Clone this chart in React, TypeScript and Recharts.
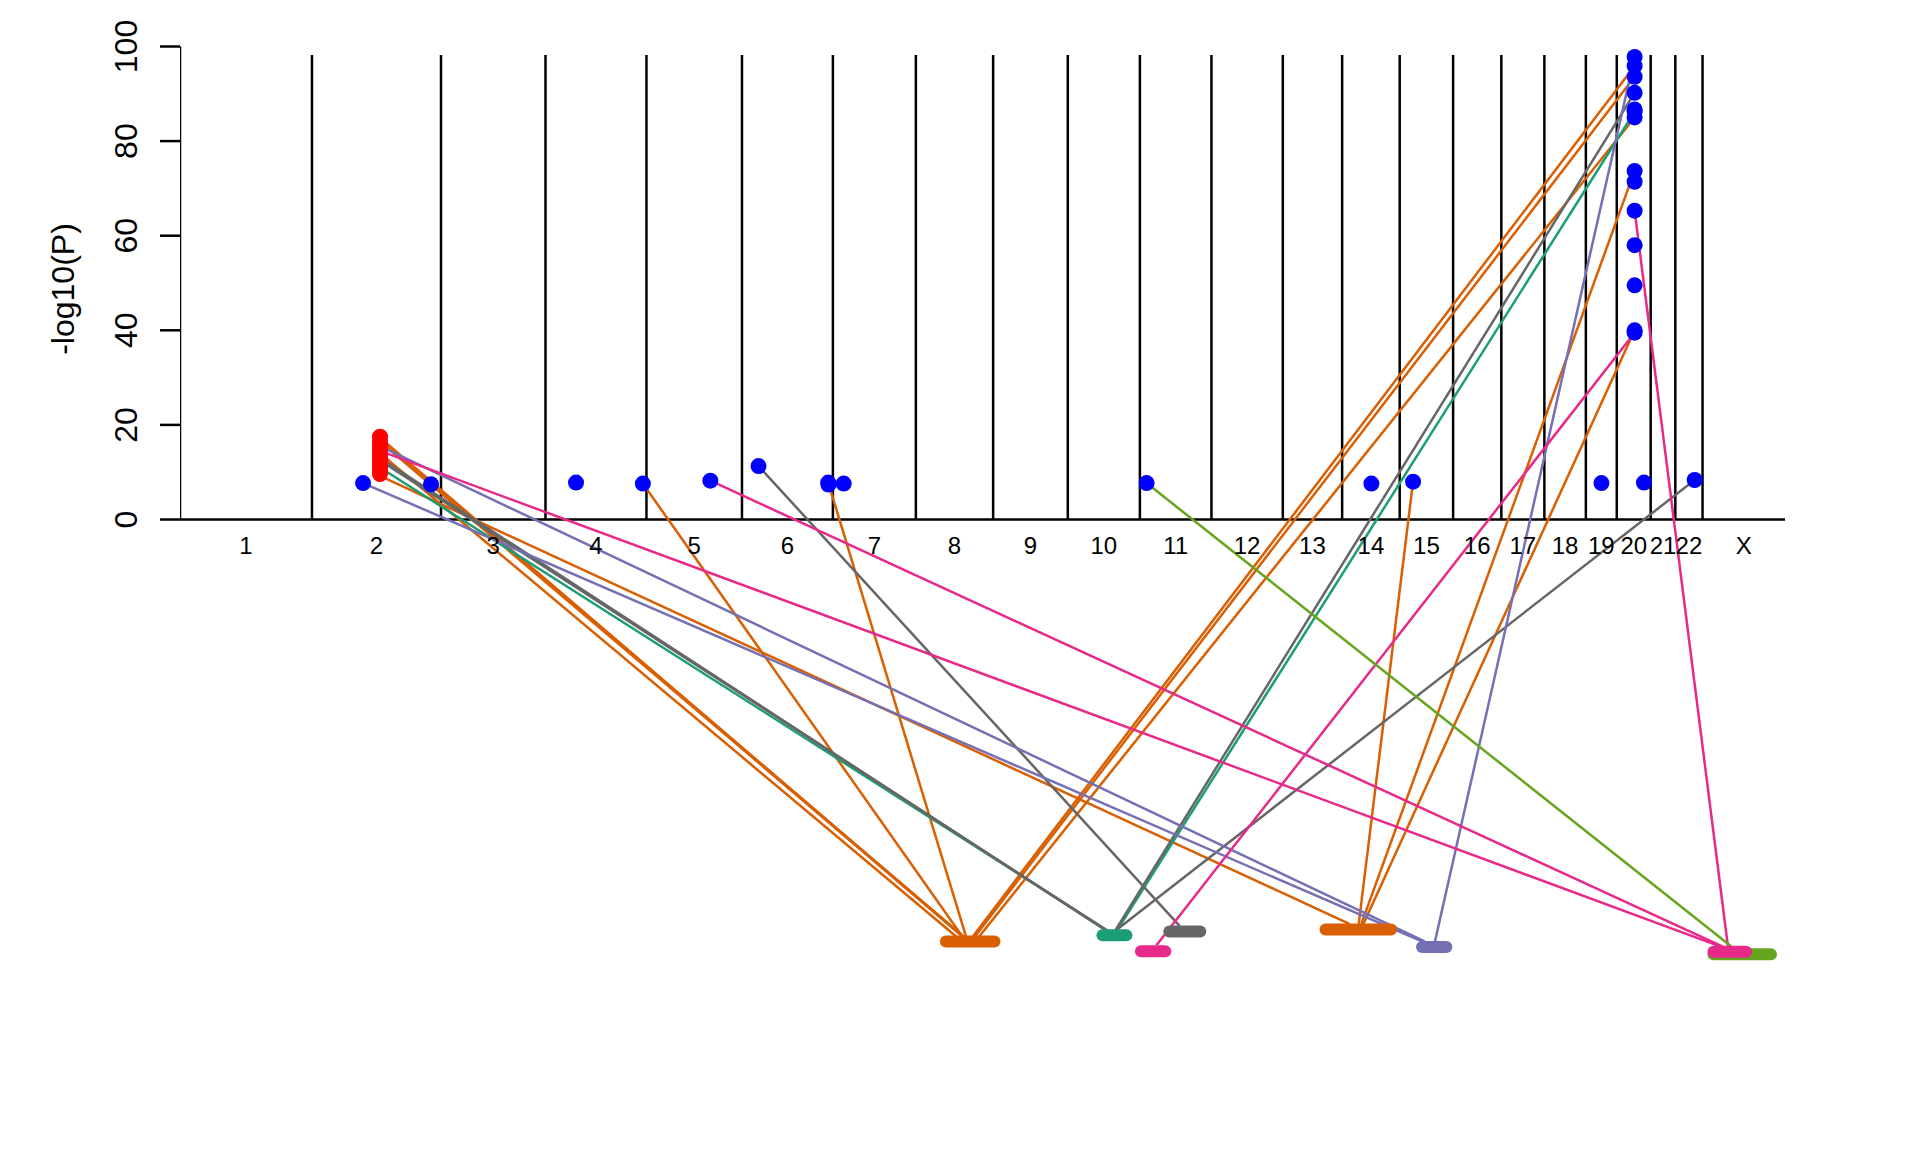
import React from 'react';
import { ComposedChart, Line, Scatter, XAxis, YAxis } from 'recharts';

const chromLabels = ['1','2','3','4','5','6','7','8','9','10','11','12','13','14','15','16','17','18','19','20','21','22','X'];
const chromEdges = [0,254.5,503.3,704.8,899.5,1083.7,1259,1419,1568,1712,1851,1989,2126.6,2241,2352,2455,2548,2631,2711,2770.6,2836,2883.5,2936,3095];
const chromMids = chromEdges.slice(0,-1).map((v,i)=>(v+chromEdges[i+1])/2);
const separatorEdges = chromEdges.slice(1,-1);
const yTicks = [0,20,40,60,80,100];

const bluePoints = [
  [353,7.7],[484,7.45],[763.7,7.8],[892.6,7.6],[1022.7,8.2],[1115.6,11.3],[1250,7.8],[1250.5,7.4],[1279.8,7.6],
  [1864,7.7],[2297.4,7.6],[2377.8,8],[2741,7.7],[2823,7.8],[2920.8,8.35],
  [2805,97.8],[2805,95.9],[2805,93.6],[2805,90.2],[2805,86.7],[2805,86.2],[2805,85],[2805,73.7],[2805,71.4],
  [2805,65.3],[2805,58],[2805,49.5],[2805,40],[2805,39.5],
];
const redPoints = [[385.7,17.5],[385.7,16.8],[385.7,16.1],[385.7,15.5],[385.7,14.8],[385.7,14.1],[385.7,13.5],[385.7,12.8],[385.7,12.1],[385.7,11.5],[385.7,11],[385.7,10.5],[385.7,10],[385.7,9.6]];

const orangeLinks = [
  [385.7,17.3,1519,-89],[385.7,17,1518,-89],[385.7,16.5,1520,-89],[385.7,14,1506,-89],[892.6,7.6,1514,-89],[1250,7.8,1518,-89],
  [2805,95.9,1523,-89],[2805,93.6,1527,-89],[2805,85,1535,-89],
  [385.7,9.2,2255,-85.5],[2377.8,8,2273,-85.5],[2805,73.7,2278,-85.5],[2805,40,2282,-85.5],
];
const tealLinks = [[385.7,11,1790,-87],[2805,86.2,1806,-87]];
const grayLinks = [[385.7,13,1787,-87],[385.7,12.5,1789,-87],[2805,90.2,1803,-87],[2920.8,8.35,1810,-86.4],[1115.6,11.3,1927.5,-85.9]];
const purpleLinks = [[353,7.7,2395,-89.2],[385.7,15.5,2400,-89.2],[2805,97.8,2420,-89.2]];
const pinkLinks = [[385.7,14.5,2971,-90.3],[1022.7,8.2,2975,-90.3],[2805,65.3,2985,-90.3],[2805,39.5,1883,-90]];
const limeLinks = [[1864,7.7,2991,-90.2]];

const tracks = [
  ['#D95F02',1477,1570.6,-89.2],['#1B9E77',1778.8,1825,-87.9],['#666666',1907.7,1967.5,-87.1],['#E7298A',1853,1900,-91.3],
  ['#D95F02',2209,2335.4,-86.7],['#7570B3',2395,2442,-90.4],['#66A61E',2957,3068,-91.9],['#E7298A',2957,3020,-91.4],
];

const BLACK = '#000000';
const seg = (x1:number,y1:number,x2:number,y2:number)=>[{x:x1,y:y1},{x:x2,y:y2}];
const toPts = (a:number[][])=>a.map(([x,y])=>({x,y}));
const Dot = (fill:string)=>(p:any)=><circle cx={p.cx} cy={p.cy} r={8} fill={fill}/>;

const linkGroups:[string,number[][]][] = [['#D95F02',orangeLinks],['#1B9E77',tealLinks],['#666666',grayLinks],['#7570B3',purpleLinks],['#E7298A',pinkLinks],['#66A61E',limeLinks]];

const XTick = (p:any)=>{
  const i = chromMids.indexOf(p.payload.value);
  return <text x={p.x} y={p.y-447} textAnchor="middle" fontFamily="Liberation Sans" fontSize={24} fill="#000">{chromLabels[i]}</text>;
};
const YTick = (p:any)=>(
  <text transform={`translate(${p.x-5},${p.y}) rotate(-90)`} textAnchor="middle" fontFamily="Liberation Sans" fontSize={32} fill="#000">{p.payload.value}</text>
);

export default function App(){
  return (
    <div style={{position:'absolute',left:0,top:0,width:1920,height:1152,background:'#fff'}}>
      <ComposedChart width={1920} height={1152} margin={{top:46.5,right:135,bottom:129.5,left:0}} data={[]}>
        <XAxis dataKey="x" type="number" domain={[0,3095]} ticks={chromMids} interval={0} axisLine={false} tickLine={false} height={30} tick={<XTick/>} allowDataOverflow/>
        <YAxis dataKey="y" type="number" domain={[-100,100]} ticks={yTicks} interval={0} width={180} axisLine={false} tickSize={20} tickMargin={18} stroke={BLACK} tickLine={{stroke:BLACK,strokeWidth:2.5}} tick={<YTick/>}/>
        <Scatter data={toPts(bluePoints)} dataKey="y" shape={Dot('#0000FF')} isAnimationActive={false}/>
        <Scatter data={toPts(redPoints)} dataKey="y" shape={Dot('#FF0000')} isAnimationActive={false}/>
        <Line data={seg(0,0,3095,0)} dataKey="y" stroke={BLACK} strokeWidth={2.5} dot={false} isAnimationActive={false}/>
        <Line data={seg(0,0,0,100)} dataKey="y" stroke={BLACK} strokeWidth={2.5} dot={false} isAnimationActive={false}/>
        {separatorEdges.map((e,i)=>(
          <Line key={'v'+i} data={seg(e,0,e,98.2)} dataKey="y" stroke={BLACK} strokeWidth={2.5} dot={false} isAnimationActive={false}/>
        ))}
        {linkGroups.flatMap(([color,links],g)=>links.map((l,i)=>(
          <Line key={`l${g}-${i}`} data={seg(l[0],l[1],l[2],l[3])} dataKey="y" stroke={color} strokeWidth={2.5} dot={false} isAnimationActive={false}/>
        )))}
        {tracks.map((t,i)=>(
          <Line key={'t'+i} data={seg(t[1] as number,t[3] as number,t[2] as number,t[3] as number)} dataKey="y" stroke={t[0] as string} strokeWidth={12} strokeLinecap="round" dot={false} isAnimationActive={false}/>
        ))}
        <text transform="translate(73.5,289) rotate(-90)" textAnchor="middle" fontFamily="Liberation Sans" fontSize={32} fill="#000">-log10(P)</text>
      </ComposedChart>
    </div>
  );
}
